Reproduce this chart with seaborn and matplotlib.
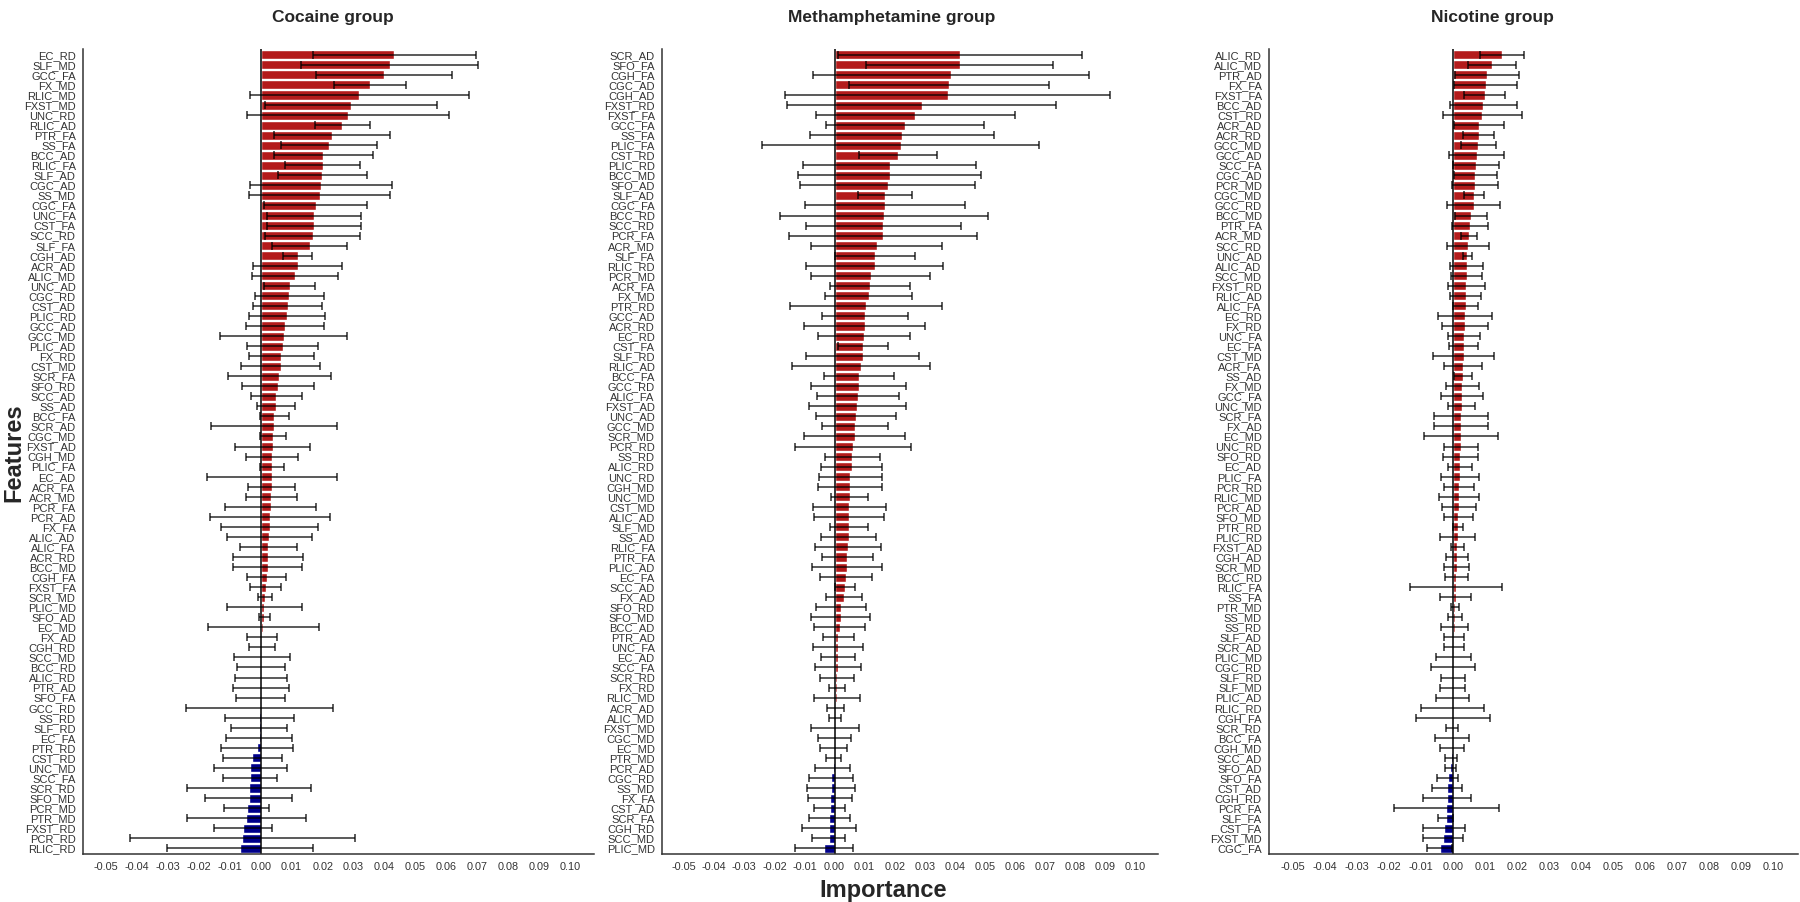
import numpy as np
import pandas as pd
import matplotlib
matplotlib.use("Agg")
import matplotlib.pyplot as plt
import seaborn as sns

# ---- data (permutation importance, mean and sd) ----
cocaine_features = [
    "EC_RD", "SLF_MD", "GCC_FA", "FX_MD", "RLIC_MD", "FXST_MD", "UNC_RD", "RLIC_AD", "PTR_FA", "SS_FA",
    "BCC_AD", "RLIC_FA", "SLF_AD", "CGC_AD", "SS_MD", "CGC_FA", "UNC_FA", "CST_FA", "SCC_RD", "SLF_FA",
    "CGH_AD", "ACR_AD", "ALIC_MD", "UNC_AD", "CGC_RD", "CST_AD", "PLIC_RD", "GCC_AD", "GCC_MD", "PLIC_AD",
    "FX_RD", "CST_MD", "SCR_FA", "SFO_RD", "SCC_AD", "SS_AD", "BCC_FA", "SCR_AD", "CGC_MD", "FXST_AD",
    "CGH_MD", "PLIC_FA", "EC_AD", "ACR_FA", "ACR_MD", "PCR_FA", "PCR_AD", "FX_FA", "ALIC_AD", "ALIC_FA",
    "ACR_RD", "BCC_MD", "CGH_FA", "FXST_FA", "SCR_MD", "PLIC_MD", "SFO_AD", "EC_MD", "FX_AD", "CGH_RD",
    "SCC_MD", "BCC_RD", "ALIC_RD", "PTR_AD", "SFO_FA", "GCC_RD", "SS_RD", "SLF_RD", "EC_FA", "PTR_RD",
    "CST_RD", "UNC_MD", "SCC_FA", "SCR_RD", "SFO_MD", "PCR_MD", "PTR_MD", "FXST_RD", "PCR_RD", "RLIC_RD",
]
cocaine_importance = [
    0.0432, 0.0416, 0.0398, 0.0353, 0.0319, 0.0292, 0.0281, 0.0263, 0.0230, 0.0221,
    0.0202, 0.0200, 0.0199, 0.0194, 0.0190, 0.0177, 0.0172, 0.0172, 0.0168, 0.0158,
    0.0119, 0.0119, 0.0111, 0.0094, 0.0092, 0.0087, 0.0084, 0.0078, 0.0074, 0.0071,
    0.0067, 0.0064, 0.0060, 0.0056, 0.0051, 0.0050, 0.0044, 0.0042, 0.0040, 0.0039,
    0.0038, 0.0037, 0.0036, 0.0035, 0.0034, 0.0032, 0.0030, 0.0029, 0.0028, 0.0025,
    0.0023, 0.0022, 0.0019, 0.0016, 0.0013, 0.0012, 0.0012, 0.0008, 0.0005, 0.0004,
    0.0003, 0.0002, 0.0001, 0.0000, -0.0001, -0.0003, -0.0004, -0.0005, -0.0006, -0.0013,
    -0.0027, -0.0033, -0.0034, -0.0038, -0.0039, -0.0045, -0.0046, -0.0058, -0.0059, -0.0068,
]
cocaine_sd = [
    0.0264, 0.0286, 0.0221, 0.0117, 0.0355, 0.0277, 0.0326, 0.0089, 0.0187, 0.0156,
    0.0159, 0.0122, 0.0143, 0.0230, 0.0228, 0.0167, 0.0152, 0.0151, 0.0154, 0.0122,
    0.0046, 0.0144, 0.0139, 0.0082, 0.0112, 0.0112, 0.0123, 0.0126, 0.0206, 0.0114,
    0.0104, 0.0129, 0.0166, 0.0117, 0.0082, 0.0061, 0.0046, 0.0203, 0.0042, 0.0121,
    0.0084, 0.0038, 0.0211, 0.0076, 0.0082, 0.0148, 0.0195, 0.0156, 0.0138, 0.0093,
    0.0114, 0.0110, 0.0064, 0.0051, 0.0022, 0.0121, 0.0018, 0.0179, 0.0049, 0.0042,
    0.0090, 0.0078, 0.0084, 0.0090, 0.0079, 0.0238, 0.0110, 0.0090, 0.0107, 0.0116,
    0.0096, 0.0118, 0.0088, 0.0199, 0.0141, 0.0072, 0.0191, 0.0094, 0.0363, 0.0236,
]

meth_features = [
    "SCR_AD", "SFO_FA", "CGH_FA", "CGC_AD", "CGH_AD", "FXST_RD", "FXST_FA", "GCC_FA", "SS_FA", "PLIC_FA",
    "CST_RD", "PLIC_RD", "BCC_MD", "SFO_AD", "SLF_AD", "CGC_FA", "BCC_RD", "SCC_RD", "PCR_FA", "ACR_MD",
    "SLF_FA", "RLIC_RD", "PCR_MD", "ACR_FA", "FX_MD", "PTR_RD", "GCC_AD", "ACR_RD", "EC_RD", "CST_FA",
    "SLF_RD", "RLIC_AD", "BCC_FA", "GCC_RD", "ALIC_FA", "FXST_AD", "UNC_AD", "GCC_MD", "SCR_MD", "PCR_RD",
    "SS_RD", "ALIC_RD", "UNC_RD", "CGH_MD", "UNC_MD", "CST_MD", "ALIC_AD", "SLF_MD", "SS_AD", "RLIC_FA",
    "PTR_FA", "PLIC_AD", "EC_FA", "SCC_AD", "FX_AD", "SFO_RD", "SFO_MD", "BCC_AD", "PTR_AD", "UNC_FA",
    "EC_AD", "SCC_FA", "SCR_RD", "FX_RD", "RLIC_MD", "ACR_AD", "ALIC_MD", "FXST_MD", "CGC_MD", "EC_MD",
    "PTR_MD", "PCR_AD", "CGC_RD", "SS_MD", "FX_FA", "CST_AD", "SCR_FA", "CGH_RD", "SCC_MD", "PLIC_MD",
]
meth_importance = [
    0.0417, 0.0416, 0.0387, 0.0381, 0.0376, 0.0290, 0.0269, 0.0233, 0.0225, 0.0220,
    0.0211, 0.0183, 0.0183, 0.0177, 0.0169, 0.0167, 0.0164, 0.0162, 0.0161, 0.0140,
    0.0134, 0.0134, 0.0120, 0.0118, 0.0114, 0.0106, 0.0101, 0.0100, 0.0098, 0.0095,
    0.0093, 0.0089, 0.0081, 0.0080, 0.0078, 0.0076, 0.0071, 0.0068, 0.0067, 0.0061,
    0.0059, 0.0057, 0.0053, 0.0052, 0.0050, 0.0049, 0.0048, 0.0048, 0.0047, 0.0044,
    0.0043, 0.0042, 0.0038, 0.0035, 0.0031, 0.0021, 0.0020, 0.0017, 0.0013, 0.0012,
    0.0011, 0.0011, 0.0009, 0.0008, 0.0007, 0.0004, 0.0002, 0.0001, 0.0000, -0.0002,
    -0.0003, -0.0006, -0.0012, -0.0013, -0.0014, -0.0016, -0.0017, -0.0019, -0.0020, -0.0035,
]
meth_sd = [
    0.0405, 0.0312, 0.0459, 0.0332, 0.0540, 0.0447, 0.0331, 0.0263, 0.0306, 0.0460,
    0.0131, 0.0288, 0.0304, 0.0291, 0.0090, 0.0266, 0.0346, 0.0257, 0.0313, 0.0219,
    0.0134, 0.0228, 0.0197, 0.0133, 0.0145, 0.0253, 0.0143, 0.0201, 0.0154, 0.0082,
    0.0187, 0.0230, 0.0116, 0.0158, 0.0135, 0.0161, 0.0133, 0.0111, 0.0168, 0.0192,
    0.0092, 0.0101, 0.0105, 0.0106, 0.0061, 0.0121, 0.0115, 0.0062, 0.0091, 0.0109,
    0.0085, 0.0116, 0.0086, 0.0034, 0.0061, 0.0082, 0.0097, 0.0085, 0.0051, 0.0083,
    0.0057, 0.0076, 0.0057, 0.0026, 0.0076, 0.0029, 0.0019, 0.0080, 0.0056, 0.0045,
    0.0025, 0.0059, 0.0072, 0.0080, 0.0073, 0.0052, 0.0068, 0.0090, 0.0054, 0.0095,
]

nicotine_features = [
    "ALIC_RD", "ALIC_MD", "PTR_AD", "FX_FA", "FXST_FA", "BCC_AD", "CST_RD", "ACR_AD", "ACR_RD", "GCC_MD",
    "GCC_AD", "SCC_FA", "CGC_AD", "PCR_MD", "CGC_MD", "GCC_RD", "BCC_MD", "PTR_FA", "ACR_MD", "SCC_RD",
    "UNC_AD", "ALIC_AD", "SCC_MD", "FXST_RD", "RLIC_AD", "ALIC_FA", "EC_RD", "FX_RD", "UNC_FA", "EC_FA",
    "CST_MD", "ACR_FA", "SS_AD", "FX_MD", "GCC_FA", "UNC_MD", "SCR_FA", "FX_AD", "EC_MD", "UNC_RD",
    "SFO_RD", "EC_AD", "PLIC_FA", "PCR_RD", "RLIC_MD", "PCR_AD", "SFO_MD", "PTR_RD", "PLIC_RD", "FXST_AD",
    "CGH_AD", "SCR_MD", "BCC_RD", "RLIC_FA", "SS_FA", "PTR_MD", "SS_MD", "SS_RD", "SLF_AD", "SCR_AD",
    "PLIC_MD", "CGC_RD", "SLF_RD", "SLF_MD", "PLIC_AD", "RLIC_RD", "CGH_FA", "SCR_RD", "BCC_FA", "CGH_MD",
    "SCC_AD", "SFO_AD", "SFO_FA", "CST_AD", "CGH_RD", "PCR_FA", "SLF_FA", "CST_FA", "FXST_MD", "CGC_FA",
]
nicotine_importance = [
    0.0152, 0.0123, 0.0106, 0.0102, 0.0099, 0.0095, 0.0092, 0.0081, 0.0080, 0.0079,
    0.0074, 0.0072, 0.0070, 0.0068, 0.0066, 0.0064, 0.0056, 0.0054, 0.0051, 0.0047,
    0.0045, 0.0043, 0.0043, 0.0042, 0.0040, 0.0040, 0.0038, 0.0037, 0.0035, 0.0034,
    0.0033, 0.0031, 0.0030, 0.0029, 0.0028, 0.0027, 0.0026, 0.0025, 0.0025, 0.0024,
    0.0023, 0.0022, 0.0021, 0.0020, 0.0019, 0.0018, 0.0017, 0.0016, 0.0015, 0.0014,
    0.0013, 0.0012, 0.0010, 0.0009, 0.0008, 0.0007, 0.0006, 0.0005, 0.0004, 0.0003,
    0.0002, 0.0001, 0.0000, 0.0000, -0.0001, -0.0001, -0.0001, -0.0002, -0.0003, -0.0004,
    -0.0006, -0.0008, -0.0017, -0.0019, -0.0020, -0.0021, -0.0023, -0.0027, -0.0031, -0.0041,
]
nicotine_sd = [
    0.0068, 0.0075, 0.0099, 0.0099, 0.0064, 0.0104, 0.0123, 0.0079, 0.0049, 0.0054,
    0.0085, 0.0072, 0.0067, 0.0071, 0.0031, 0.0083, 0.0050, 0.0056, 0.0025, 0.0065,
    0.0015, 0.0052, 0.0048, 0.0059, 0.0048, 0.0039, 0.0084, 0.0071, 0.0050, 0.0045,
    0.0095, 0.0060, 0.0028, 0.0052, 0.0065, 0.0042, 0.0084, 0.0084, 0.0114, 0.0053,
    0.0055, 0.0037, 0.0059, 0.0047, 0.0063, 0.0053, 0.0046, 0.0015, 0.0054, 0.0019,
    0.0034, 0.0039, 0.0036, 0.0143, 0.0048, 0.0013, 0.0023, 0.0042, 0.0031, 0.0030,
    0.0055, 0.0069, 0.0036, 0.0039, 0.0051, 0.0098, 0.0115, 0.0019, 0.0054, 0.0038,
    0.0019, 0.0017, 0.0034, 0.0046, 0.0075, 0.0164, 0.0024, 0.0065, 0.0061, 0.0039,
]

panel_titles = ["Cocaine group", "Methamphetamine group", "Nicotine group"]
x_ticks = [-0.05, -0.04, -0.03, -0.02, -0.01, 0.00, 0.01, 0.02, 0.03, 0.04, 0.05, 0.06, 0.07, 0.08, 0.09, 0.10]

sns.set_style("white")
plt.rcParams["font.family"] = ["Liberation Sans", "DejaVu Sans"]

fig = plt.figure(figsize=(18, 9.02), dpi=100)

# axes boxes in figure fractions (left, width) and title x positions
boxes = [(0.0459, 0.2839), (0.3676, 0.2756), (0.7048, 0.2939)]
title_x = [0.185, 0.4956, 0.829]

groups = [
    (cocaine_features, cocaine_importance, cocaine_sd),
    (meth_features, meth_importance, meth_sd),
    (nicotine_features, nicotine_importance, nicotine_sd),
]

for (feats, imp, sd), (left, width), title, tx in zip(groups, boxes, panel_titles, title_x):
    df = pd.DataFrame({"feature": feats, "importance": imp, "sd": sd})
    df["sign"] = np.where(df["importance"] >= 0, "pos", "neg")
    ax = fig.add_axes([left, 0.0529, width, 0.893])
    sns.barplot(data=df, x="importance", y="feature", hue="sign", order=feats,
                palette={"pos": "#B31B1B", "neg": "#00008B"}, orient="h", width=0.9,
                dodge=False, legend=False, saturation=1, errorbar=None, ax=ax)
    ax.errorbar(df["importance"], np.arange(len(df)), xerr=df["sd"], fmt="none",
                ecolor="black", elinewidth=1.3, capsize=3, capthick=1.3, alpha=0.7)
    ax.axvline(0, color="black", lw=1.1)
    ax.set_xlim(-0.0575, 0.1075)
    ax.set_ylim(len(df) - 0.4, -0.6)
    ax.set_xticks(x_ticks)
    ax.set_xticklabels([f"{round(t, 2) + 0.0:.2f}" for t in x_ticks], fontsize=7.8, color="#333333")
    ax.tick_params(axis="y", labelsize=8, length=3.5, width=0.8, pad=1.5, colors="#333333", labelcolor="#333333")
    ax.tick_params(axis="x", length=3.5, width=0.8, pad=2, colors="#333333")
    ax.set_xlabel("")
    ax.set_ylabel("")
    for side in ["top", "right"]:
        ax.spines[side].set_visible(False)
    for side in ["left", "bottom"]:
        ax.spines[side].set_color("#333333")
        ax.spines[side].set_linewidth(1.1)
    fig.text(tx, 0.981, title, ha="center", va="center", fontsize=12.5, fontweight="bold")

fig.text(0.0075, 0.498, "Features", rotation=90, ha="center", va="center", fontsize=17, fontweight="bold")
fig.text(0.4906, 0.0133, "Importance", ha="center", va="center", fontsize=17, fontweight="bold")

fig.savefig("out.png", dpi=100, facecolor="white")
